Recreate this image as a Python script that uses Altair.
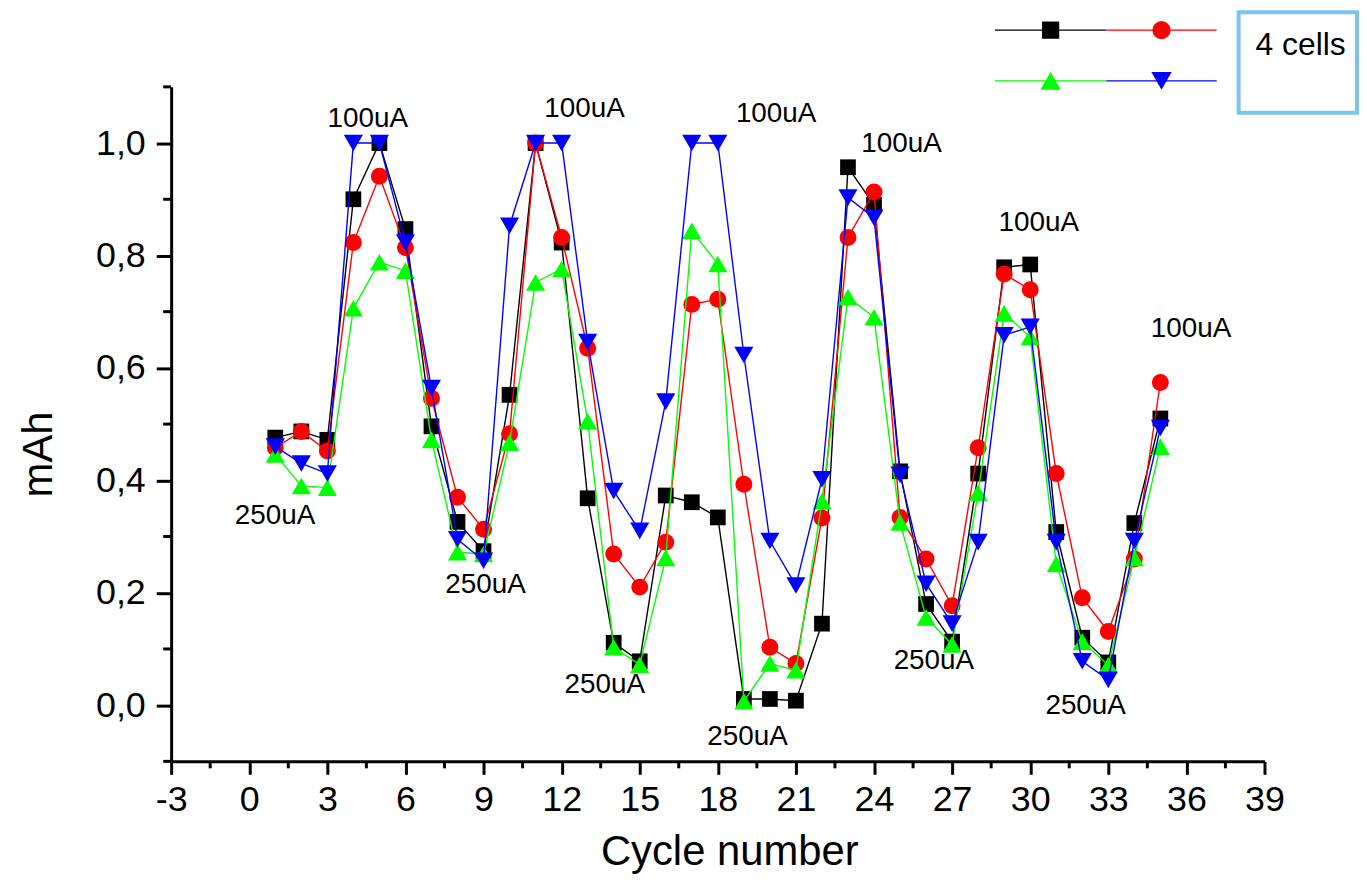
import altair as alt
import pandas as pd

# ---------------- data ----------------
cycles = list(range(1, 36))
series_black = [0.476, 0.487, 0.472, 0.90, 1.0, 0.847, 0.496, 0.326, 0.274, 0.552,
                1.0, 0.823, 0.368, 0.111, 0.078, 0.373, 0.361, 0.334, 0.011, 0.011,
                0.008, 0.145, 0.957, 0.89, 0.416, 0.18, 0.113, 0.412, 0.779, 0.784,
                0.308, 0.12, 0.076, 0.324, 0.51]
series_red = [0.458, 0.487, 0.452, 0.823, 0.941, 0.814, 0.546, 0.37, 0.313, 0.483,
              1.0, 0.832, 0.635, 0.269, 0.21, 0.29, 0.713, 0.722, 0.393, 0.103,
              0.074, 0.333, 0.832, 0.913, 0.334, 0.26, 0.177, 0.458, 0.767, 0.739,
              0.412, 0.191, 0.131, 0.26, 0.574]
series_green = [0.446, 0.39, 0.387, 0.706, 0.788, 0.773, 0.472, 0.272, 0.269, 0.467,
                0.752, 0.776, 0.505, 0.103, 0.072, 0.262, 0.844, 0.785, 0.007, 0.074,
                0.062, 0.363, 0.726, 0.69, 0.325, 0.156, 0.108, 0.378, 0.697, 0.655,
                0.251, 0.113, 0.071, 0.262, 0.46]
series_blue = [0.46, 0.43, 0.412, 1.0, 1.0, 0.823, 0.564, 0.295, 0.257, 0.853,
               1.0, 1.0, 0.646, 0.381, 0.31, 0.54, 1.0, 1.0, 0.623, 0.292,
               0.213, 0.402, 0.903, 0.867, 0.41, 0.216, 0.145, 0.29, 0.658, 0.673,
               0.29, 0.078, 0.045, 0.292, 0.493]

ann_x = [4.55, 12.88, 20.24, 25.06, 30.33, 36.18, 0.99, 9.08, 13.66, 19.14, 26.30, 32.13]
ann_y = [1.043, 1.061, 1.052, 0.999, 0.857, 0.669, 0.336, 0.214, 0.035, -0.057, 0.079, -0.001]
ann_text = ["100uA"] * 6 + ["250uA"] * 6

x_major = [-3, 0, 3, 6, 9, 12, 15, 18, 21, 24, 27, 30, 33, 36, 39]
x_minor = [-1.5, 1.5, 4.5, 7.5, 10.5, 13.5, 16.5, 19.5, 22.5, 25.5, 28.5, 31.5, 34.5, 37.5]
y_major = [0.0, 0.2, 0.4, 0.6, 0.8, 1.0]
y_minor = [-0.1, 0.1, 0.3, 0.5, 0.7, 0.9, 1.1]

legend_label = "4 cells"

# ---------------- styling ----------------
FONT = "Liberation Sans"
W, H = 1099, 678

xs = alt.Scale(domain=[-3, 39], nice=False, zero=False)
ys = alt.Scale(domain=[-0.1, 1.1], nice=False, zero=False)

xaxis = alt.Axis(
    values=x_major, title="Cycle number", grid=False,
    labelExpr="datum.value < 0 ? '-' + abs(datum.value) : '' + datum.value",
    tickSize=13, tickWidth=3, tickColor="black", domainWidth=3, domainColor="black",
    labelFont=FONT, labelFontSize=36, labelColor="black", labelPadding=8,
    labelFlush=False, labelOverlap=False,
    titleFont=FONT, titleFontSize=42, titleFontWeight="normal", titleColor="black",
    titleX=561, titleY=104, titleAlign="center", titleBaseline="alphabetic",
)
yaxis = alt.Axis(
    values=y_major, title="mAh", grid=False,
    labelExpr="replace(format(datum.value, '.1f'), '.', ',')",
    tickSize=15, tickWidth=3, tickColor="black", domainWidth=3, domainColor="black",
    labelFont=FONT, labelFontSize=36, labelColor="black", labelPadding=11,
    labelFlush=False, labelOverlap=False, labelBaseline="middle",
    titleFont=FONT, titleFontSize=42, titleFontWeight="normal", titleColor="black",
    titleX=-120, titleY=369, titleAngle=270, titleAlign="center", titleBaseline="alphabetic",
)

X = alt.X("x:Q", scale=xs, axis=xaxis)
Y = alt.Y("y:Q", scale=ys, axis=yaxis)

layers = []

# minor ticks
df_xminor = pd.DataFrame({"x": x_minor})
layers.append(
    alt.Chart(df_xminor).mark_rule(color="black", strokeWidth=3).encode(
        x=X, y=alt.value(H), y2=alt.value(H + 7)
    )
)
df_yminor = pd.DataFrame({"y": y_minor})
layers.append(
    alt.Chart(df_yminor).mark_rule(color="black", strokeWidth=3).encode(
        y=Y, x=alt.value(-8), x2=alt.value(0)
    )
)

series = [
    (series_black, "#000000", "square", 250),
    (series_red, "#FF0000", "circle", 290),
    (series_green, "#00FF00", "triangle-up", 370),
    (series_blue, "#0000FF", "triangle-down", 370),
]
for vals, col, shape, size in series:
    df = pd.DataFrame({"x": cycles, "y": vals})
    base = alt.Chart(df)
    layers.append(base.mark_line(color=col, strokeWidth=1.4).encode(x=X, y=Y))
    layers.append(
        base.mark_point(shape=shape, filled=True, size=size, color=col, opacity=1).encode(x=X, y=Y)
    )

# annotations
df_ann = pd.DataFrame({"x": ann_x, "y": ann_y, "t": ann_text})
layers.append(
    alt.Chart(df_ann).mark_text(font=FONT, fontSize=28, color="black",
                                align="center", baseline="middle").encode(
        x=X, y=Y, text="t:N"
    )
)

# custom legend (top right, outside the plot area)
one = pd.DataFrame({"label": [legend_label]})
leg_rows = [
    ("#000000", "square", 300, 828, 940, -57),
    ("#FF0000", "circle", 330, 940, 1051, -57),
    ("#00FF00", "triangle-up", 420, 828, 940, -6),
    ("#0000FF", "triangle-down", 420, 940, 1051, -6),
]
for col, shape, size, x0, x1, yy in leg_rows:
    layers.append(
        alt.Chart(one).mark_rule(color=col, strokeWidth=1.4).encode(
            x=alt.value(x0), x2=alt.value(x1), y=alt.value(yy)
        )
    )
    layers.append(
        alt.Chart(one).mark_point(shape=shape, filled=True, size=size, color=col, opacity=1).encode(
            x=alt.value((x0 + x1) / 2), y=alt.value(yy)
        )
    )
layers.append(
    alt.Chart(one).mark_rect(fill="white", stroke="#7DC3EA", strokeWidth=4).encode(
        x=alt.value(1073), x2=alt.value(1192), y=alt.value(-75), y2=alt.value(26)
    )
)
layers.append(
    alt.Chart(one).mark_text(font=FONT, fontSize=32, color="black",
                             align="left", baseline="alphabetic").encode(
        x=alt.value(1090), y=alt.value(-32), text="label:N"
    )
)

chart = alt.layer(*layers).properties(
    width=W, height=H,
    background="white",
    autosize=alt.AutoSizeParams(type="none"),
    padding={"left": 164, "top": 77, "right": 95, "bottom": 120},
).configure_view(stroke="transparent")

chart.save("out.html", embed_options={"renderer": "svg", "actions": False})
